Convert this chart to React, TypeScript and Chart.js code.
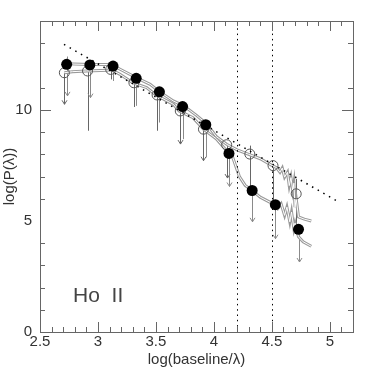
import React, { useEffect, useRef } from "react";
import { Chart, registerables } from "chart.js";
Chart.register(...registerables);

// Filled (black) points
const xFilled = [2.73, 2.93, 3.13, 3.33, 3.53, 3.73, 3.93, 4.13, 4.33, 4.53, 4.73];
const yFilled = [12.05, 12.02, 11.97, 11.42, 10.81, 10.15, 9.33, 8.04, 6.37, 5.73, 4.62];
const hiFilled = [12.4, 12.05, 11.97, 11.42, 10.81, 10.15, 9.33, 8.04, 6.37, 5.73, 4.62];
const loFilled = [10.63, 10.55, 11.3, 10.18, 9.43, 8.68, 7.86, 6.55, 4.96, 4.2, 3.15];
const arrowFilled = [true, true, false, false, false, false, false, true, true, true, true];

// Open points
const xOpen = [2.71, 2.91, 3.11, 3.31, 3.51, 3.71, 3.91, 4.11, 4.31, 4.51, 4.71];
const yOpen = [11.67, 11.75, 11.82, 11.22, 10.67, 9.95, 9.13, 8.43, 8.01, 7.49, 6.22];
const hiOpen = [11.67, 11.75, 11.82, 11.22, 10.67, 9.95, 9.13, 8.43, 8.39, 7.49, 6.89];
const loOpen = [10.25, 9.06, 11.37, 10.13, 9.06, 8.46, 7.71, 6.93, 6.4, 5.8, 4.57];
const arrowOpen = [true, false, false, false, false, true, true, true, false, false, false];

// Upper grey curve
const xCurveU = [2.73, 2.93, 3.08, 3.14, 3.22, 3.33, 3.45, 3.53, 3.65, 3.74, 3.85, 3.94, 4.02, 4.11, 4.2, 4.3, 4.4, 4.5, 4.54, 4.57, 4.59, 4.61, 4.635, 4.65, 4.665, 4.68, 4.69, 4.7, 4.71, 4.73, 4.78, 4.84];
const yCurveU = [12.07, 12.04, 12.04, 11.97, 11.75, 11.45, 11.15, 10.82, 10.4, 10.18, 9.75, 9.36, 8.8, 8.45, 8.2, 8.0, 7.8, 7.5, 7.4, 7.19, 7.38, 6.97, 7.19, 6.59, 6.95, 6.37, 6.7, 5.62, 6.0, 5.18, 5.08, 5.0];

// Lower grey curve
const xCurveL = [2.71, 2.78, 2.9, 3.08, 3.11, 3.19, 3.3, 3.42, 3.5, 3.65, 3.7, 3.82, 3.91, 4.02, 4.13, 4.16, 4.22, 4.27, 4.33, 4.4, 4.51, 4.55, 4.58, 4.61, 4.63, 4.655, 4.67, 4.69, 4.7, 4.73, 4.77, 4.84];
const yCurveL = [11.67, 11.72, 11.75, 11.78, 11.82, 11.6, 11.22, 11.0, 10.67, 10.25, 9.95, 9.65, 9.13, 8.7, 8.04, 7.9, 7.0, 6.6, 6.37, 6.07, 5.77, 5.55, 5.77, 5.25, 5.62, 4.96, 5.4, 4.66, 4.9, 4.29, 4.06, 3.86];

// Dotted power-law line
const xDotted = [2.707, 5.08];
const yDotted = [12.95, 5.84];

// Vertical dotted markers
const xMarkers = [4.2, 4.5];

// Axes
const xRange = [2.5, 5.2];
const yRange = [0, 14];
const xTickValues = [2.5, 3, 3.5, 4, 4.5, 5];
const xTickLabels = ["2.5", "3", "3.5", "4", "4.5", "5"];
const yTickValues = [0, 5, 10];
const yTickLabels = ["0", "5", "10"];
const xMinorTicks = [2.6, 2.7, 2.8, 2.9, 3.1, 3.2, 3.3, 3.4, 3.6, 3.7, 3.8, 3.9, 4.1, 4.2, 4.3, 4.4, 4.6, 4.7, 4.8, 4.9, 5.1];
const xMajorTicks = [3, 3.5, 4, 4.5, 5];
const yMinorTicks = [1, 2, 3, 4, 6, 7, 8, 9, 11, 13];
const yMajorTicks = [10];

const labelText = "Ho  II";
const labelPos = [2.785, 1.35];

const FONT = "'Liberation Sans', Arial, sans-serif";
const AXIS = "#666666";

const pts = (xs: number[], ys: number[]) => xs.map((x, i) => ({ x, y: ys[i] }));

const decorPlugin = {
  id: "decor",
  beforeDatasetsDraw(chart: any) {
    const { ctx } = chart;
    const xs = chart.scales.x;
    const ys = chart.scales.y;
    const drawBars = (xv: number[], hi: number[], lo: number[], arr: boolean[], color: string) => {
      ctx.save();
      ctx.strokeStyle = color;
      ctx.lineWidth = 1;
      xv.forEach((x, i) => {
        const px = Math.round(xs.getPixelForValue(x)) + 0.5;
        const pt = ys.getPixelForValue(hi[i]);
        const pb = ys.getPixelForValue(lo[i]);
        ctx.beginPath();
        ctx.moveTo(px, pt);
        ctx.lineTo(px, pb);
        ctx.stroke();
        if (arr[i]) {
          ctx.beginPath();
          ctx.moveTo(px - 2.5, pb - 4);
          ctx.lineTo(px, pb);
          ctx.lineTo(px + 2.5, pb - 4);
          ctx.stroke();
        }
      });
      ctx.restore();
    };
    drawBars(xOpen, hiOpen, loOpen, arrowOpen, "#666666");
    drawBars(xFilled, hiFilled, loFilled, arrowFilled, "#8a8a8a");
  },
  afterDatasetsDraw(chart: any) {
    const { ctx, chartArea } = chart;
    const xs = chart.scales.x;
    const ys = chart.scales.y;
    const { left, right, top, bottom } = chartArea;
    ctx.save();
    // vertical dotted markers
    ctx.strokeStyle = "#000000";
    ctx.lineWidth = 1;
    ctx.setLineDash([1.5, 3.8]);
    xMarkers.forEach((m) => {
      const px = Math.round(xs.getPixelForValue(m)) + 0.5;
      ctx.beginPath();
      ctx.moveTo(px, ys.getPixelForValue(yRange[1]) + 2);
      ctx.lineTo(px, ys.getPixelForValue(yRange[0]));
      ctx.stroke();
    });
    ctx.setLineDash([]);
    ctx.strokeStyle = AXIS;
    ctx.lineWidth = 1;
    ctx.strokeRect(Math.round(left) + 0.5, Math.round(top) + 0.5, Math.round(right - left), Math.round(bottom - top));
    const vt = (v: number, len: number) => {
      const px = Math.round(xs.getPixelForValue(v)) + 0.5;
      ctx.beginPath();
      ctx.moveTo(px, bottom);
      ctx.lineTo(px, bottom - len);
      ctx.moveTo(px, top);
      ctx.lineTo(px, top + len);
      ctx.stroke();
    };
    const ht = (v: number, len: number) => {
      const py = Math.round(ys.getPixelForValue(v)) + 0.5;
      ctx.beginPath();
      ctx.moveTo(left, py);
      ctx.lineTo(left + len, py);
      ctx.moveTo(right, py);
      ctx.lineTo(right - len, py);
      ctx.stroke();
    };
    xMinorTicks.forEach((v) => vt(v, 5));
    xMajorTicks.forEach((v) => vt(v, 10));
    yMinorTicks.forEach((v) => ht(v, 5));
    yMajorTicks.forEach((v) => ht(v, 11));
    ctx.fillStyle = "#444444";
    ctx.font = `21px ${FONT}`;
    ctx.textBaseline = "alphabetic";
    ctx.textAlign = "left";
    ctx.fillText(labelText, xs.getPixelForValue(labelPos[0]), ys.getPixelForValue(labelPos[1]));
    ctx.restore();
  },
};

export default function App() {
  const ref = useRef<HTMLCanvasElement | null>(null);
  useEffect(() => {
    document.body.style.margin = "0";
    if (!ref.current) return;
    const chart = new Chart(ref.current, {
      type: "scatter",
      data: {
        datasets: [
          {
            label: "filled",
            data: pts(xFilled, yFilled),
            pointRadius: 5.5,
            pointBackgroundColor: "#000000",
            pointBorderColor: "#000000",
            pointBorderWidth: 0,
            showLine: false,
            order: 0,
          },
          {
            label: "open",
            data: pts(xOpen, yOpen),
            pointRadius: 5,
            pointBackgroundColor: "rgba(0,0,0,0)",
            pointBorderColor: "#555555",
            pointBorderWidth: 1,
            showLine: false,
            order: 1,
          },
          {
            label: "dotted",
            data: pts(xDotted, yDotted),
            showLine: true,
            pointRadius: 0,
            borderColor: "#000000",
            borderWidth: 1.5,
            borderDash: [1.5, 5],
            order: 2,
          },
          {
            label: "curveU-in",
            data: pts(xCurveU, yCurveU),
            showLine: true,
            pointRadius: 0,
            borderColor: "#ffffff",
            borderWidth: 1,
            order: 3,
          },
          {
            label: "curveL-in",
            data: pts(xCurveL, yCurveL),
            showLine: true,
            pointRadius: 0,
            borderColor: "#ffffff",
            borderWidth: 1,
            order: 3,
          },
          {
            label: "curveU",
            data: pts(xCurveU, yCurveU),
            showLine: true,
            pointRadius: 0,
            borderColor: "#9a9a9a",
            borderWidth: 3,
            order: 4,
          },
          {
            label: "curveL",
            data: pts(xCurveL, yCurveL),
            showLine: true,
            pointRadius: 0,
            borderColor: "#9a9a9a",
            borderWidth: 3,
            order: 4,
          },
        ],
      },
      options: {
        animation: false,
        responsive: false,
        devicePixelRatio: 1,
        layout: { padding: { top: 21, right: 21, left: 0, bottom: 0 } },
        plugins: { legend: { display: false }, tooltip: { enabled: false } },
        scales: {
          x: {
            type: "linear",
            min: xRange[0],
            max: xRange[1],
            grid: { display: false, drawTicks: false },
            border: { display: false },
            afterBuildTicks: (s: any) => {
              s.ticks = xTickValues.map((v) => ({ value: v }));
            },
            afterFit: (s: any) => {
              s.height = 42;
            },
            ticks: {
              autoSkip: false,
              maxRotation: 0,
              padding: 1,
              color: "#333333",
              font: { family: FONT, size: 15 },
              callback: (v: any) => {
                const i = xTickValues.indexOf(Number(v));
                return i >= 0 ? xTickLabels[i] : "";
              },
            },
            title: {
              display: true,
              text: "log(baseline/λ)",
              color: "#333333",
              font: { family: FONT, size: 15 },
              padding: { top: 0, bottom: 5 },
            },
          },
          y: {
            type: "linear",
            min: yRange[0],
            max: yRange[1],
            grid: { display: false, drawTicks: false },
            border: { display: false },
            afterBuildTicks: (s: any) => {
              s.ticks = yTickValues.map((v) => ({ value: v }));
            },
            afterFit: (s: any) => {
              s.width = 40;
            },
            ticks: {
              autoSkip: false,
              padding: 8,
              color: "#333333",
              font: { family: FONT, size: 15 },
              callback: (v: any) => {
                const i = yTickValues.indexOf(Number(v));
                return i >= 0 ? yTickLabels[i] : "";
              },
            },
            title: {
              display: true,
              text: "log(P(λ))",
              color: "#333333",
              font: { family: FONT, size: 15 },
              padding: { top: 1, bottom: 0 },
            },
          },
        },
      },
      plugins: [decorPlugin],
    });
    return () => chart.destroy();
  }, []);
  return (
    <div style={{ width: 374, height: 374 }}>
      <canvas ref={ref} width={374} height={374} />
    </div>
  );
}
